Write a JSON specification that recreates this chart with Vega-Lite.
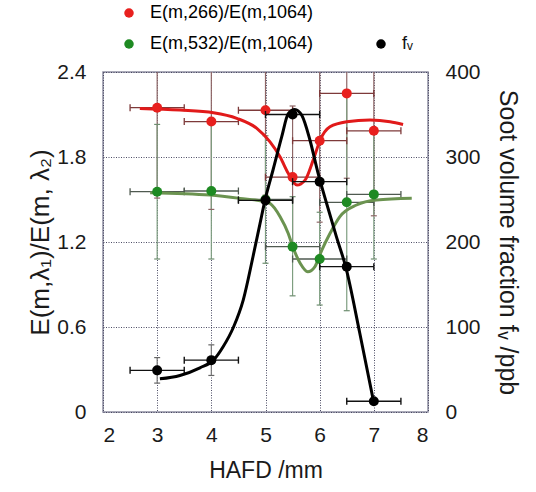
{
  "$schema": "https://vega.github.io/schema/vega-lite/v6.json",
  "width": 325,
  "height": 340,
  "autosize": "none",
  "padding": {"left": 103, "top": 72, "right": 108, "bottom": 80},
  "background": "white",
  "datasets": {
    "ratio": [
      {"series": "E(m,266)/E(m,1064)", "hafd": 3, "val": 2.148, "xlo": 2.5, "xhi": 3.5, "ylo": 1.51, "yhi": 2.79},
      {"series": "E(m,266)/E(m,1064)", "hafd": 4, "val": 2.05, "xlo": 3.5, "xhi": 4.5, "ylo": 1.43, "yhi": 2.67},
      {"series": "E(m,266)/E(m,1064)", "hafd": 5, "val": 2.13, "xlo": 4.5, "xhi": 5.5, "ylo": 1.53, "yhi": 2.73},
      {"series": "E(m,266)/E(m,1064)", "hafd": 5.5, "val": 1.658, "xlo": 5.0, "xhi": 6.0, "ylo": 1.16, "yhi": 2.16},
      {"series": "E(m,266)/E(m,1064)", "hafd": 6, "val": 1.915, "xlo": 5.5, "xhi": 6.5, "ylo": 1.34, "yhi": 2.49},
      {"series": "E(m,266)/E(m,1064)", "hafd": 6.5, "val": 2.249, "xlo": 6.0, "xhi": 7.0, "ylo": 1.65, "yhi": 2.85},
      {"series": "E(m,266)/E(m,1064)", "hafd": 7, "val": 1.985, "xlo": 6.5, "xhi": 7.5, "ylo": 1.385, "yhi": 2.585},
      {"series": "E(m,532)/E(m,1064)", "hafd": 3, "val": 1.555, "xlo": 2.5, "xhi": 3.5, "ylo": 1.08, "yhi": 2.03},
      {"series": "E(m,532)/E(m,1064)", "hafd": 4, "val": 1.56, "xlo": 3.5, "xhi": 4.5, "ylo": 1.08, "yhi": 2.04},
      {"series": "E(m,532)/E(m,1064)", "hafd": 5, "val": 1.5, "xlo": 4.5, "xhi": 5.5, "ylo": 1.05, "yhi": 1.95},
      {"series": "E(m,532)/E(m,1064)", "hafd": 5.5, "val": 1.167, "xlo": 5.0, "xhi": 6.0, "ylo": 0.82, "yhi": 1.52},
      {"series": "E(m,532)/E(m,1064)", "hafd": 6, "val": 1.08, "xlo": 5.5, "xhi": 6.5, "ylo": 0.755, "yhi": 1.41},
      {"series": "E(m,532)/E(m,1064)", "hafd": 6.5, "val": 1.48, "xlo": 6.0, "xhi": 7.0, "ylo": 0.715, "yhi": 2.245},
      {"series": "E(m,532)/E(m,1064)", "hafd": 7, "val": 1.536, "xlo": 6.5, "xhi": 7.5, "ylo": 1.08, "yhi": 1.99}
    ],
    "ratioCurve": [
      {"series": "E(m,266)/E(m,1064)", "hafd": 2.68, "val": 2.143},
      {"series": "E(m,266)/E(m,1064)", "hafd": 3.42, "val": 2.131},
      {"series": "E(m,266)/E(m,1064)", "hafd": 4.04, "val": 2.112},
      {"series": "E(m,266)/E(m,1064)", "hafd": 4.47, "val": 2.073},
      {"series": "E(m,266)/E(m,1064)", "hafd": 4.84, "val": 2.002},
      {"series": "E(m,266)/E(m,1064)", "hafd": 5.08, "val": 1.908},
      {"series": "E(m,266)/E(m,1064)", "hafd": 5.27, "val": 1.8},
      {"series": "E(m,266)/E(m,1064)", "hafd": 5.42, "val": 1.685},
      {"series": "E(m,266)/E(m,1064)", "hafd": 5.58, "val": 1.602},
      {"series": "E(m,266)/E(m,1064)", "hafd": 5.73, "val": 1.637},
      {"series": "E(m,266)/E(m,1064)", "hafd": 5.88, "val": 1.778},
      {"series": "E(m,266)/E(m,1064)", "hafd": 6.01, "val": 1.92},
      {"series": "E(m,266)/E(m,1064)", "hafd": 6.19, "val": 2.013},
      {"series": "E(m,266)/E(m,1064)", "hafd": 6.5, "val": 2.049},
      {"series": "E(m,266)/E(m,1064)", "hafd": 6.93, "val": 2.061},
      {"series": "E(m,266)/E(m,1064)", "hafd": 7.3, "val": 2.049},
      {"series": "E(m,266)/E(m,1064)", "hafd": 7.54, "val": 2.03},
      {"series": "E(m,532)/E(m,1064)", "hafd": 2.87, "val": 1.548},
      {"series": "E(m,532)/E(m,1064)", "hafd": 3.98, "val": 1.531},
      {"series": "E(m,532)/E(m,1064)", "hafd": 4.53, "val": 1.508},
      {"series": "E(m,532)/E(m,1064)", "hafd": 4.99, "val": 1.484},
      {"series": "E(m,532)/E(m,1064)", "hafd": 5.08, "val": 1.473},
      {"series": "E(m,532)/E(m,1064)", "hafd": 5.27, "val": 1.378},
      {"series": "E(m,532)/E(m,1064)", "hafd": 5.42, "val": 1.26},
      {"series": "E(m,532)/E(m,1064)", "hafd": 5.5, "val": 1.17},
      {"series": "E(m,532)/E(m,1064)", "hafd": 5.64, "val": 1.05},
      {"series": "E(m,532)/E(m,1064)", "hafd": 5.78, "val": 0.99},
      {"series": "E(m,532)/E(m,1064)", "hafd": 5.91, "val": 1.025},
      {"series": "E(m,532)/E(m,1064)", "hafd": 6.04, "val": 1.143},
      {"series": "E(m,532)/E(m,1064)", "hafd": 6.19, "val": 1.26},
      {"series": "E(m,532)/E(m,1064)", "hafd": 6.37, "val": 1.378},
      {"series": "E(m,532)/E(m,1064)", "hafd": 6.68, "val": 1.461},
      {"series": "E(m,532)/E(m,1064)", "hafd": 7.05, "val": 1.496},
      {"series": "E(m,532)/E(m,1064)", "hafd": 7.7, "val": 1.508}
    ],
    "fv": [
      {"series": "fᵥ", "hafd": 3, "val": 49, "xlo": 2.5, "xhi": 3.5, "ylo": 34, "yhi": 64},
      {"series": "fᵥ", "hafd": 4, "val": 61, "xlo": 3.5, "xhi": 4.5, "ylo": 43, "yhi": 79},
      {"series": "fᵥ", "hafd": 5, "val": 249, "xlo": 4.5, "xhi": 5.5, "ylo": null, "yhi": null},
      {"series": "fᵥ", "hafd": 5.5, "val": 350, "xlo": 5.0, "xhi": 6.0, "ylo": null, "yhi": null},
      {"series": "fᵥ", "hafd": 6, "val": 271, "xlo": 5.5, "xhi": 6.5, "ylo": null, "yhi": null},
      {"series": "fᵥ", "hafd": 6.5, "val": 171, "xlo": 6.0, "xhi": 7.0, "ylo": null, "yhi": null},
      {"series": "fᵥ", "hafd": 7, "val": 12.6, "xlo": 6.5, "xhi": 7.5, "ylo": null, "yhi": null}
    ],
    "fvCurve": [
      {"hafd": 3.05, "val": 39},
      {"hafd": 3.42, "val": 43},
      {"hafd": 3.79, "val": 52},
      {"hafd": 4.04, "val": 61},
      {"hafd": 4.22, "val": 77},
      {"hafd": 4.41, "val": 100},
      {"hafd": 4.59, "val": 132},
      {"hafd": 4.77, "val": 183},
      {"hafd": 4.9, "val": 222},
      {"hafd": 4.99, "val": 249},
      {"hafd": 5.14, "val": 285},
      {"hafd": 5.3, "val": 324},
      {"hafd": 5.42, "val": 351},
      {"hafd": 5.54, "val": 356},
      {"hafd": 5.67, "val": 349},
      {"hafd": 5.82, "val": 320},
      {"hafd": 5.97, "val": 281},
      {"hafd": 6.13, "val": 245},
      {"hafd": 6.31, "val": 206},
      {"hafd": 6.48, "val": 171},
      {"hafd": 6.74, "val": 93},
      {"hafd": 6.99, "val": 14}
    ]
  },
  "layer": [
    {
      "resolve": {"scale": {"stroke": "independent"}},
      "layer": [
        {
          "data": {"name": "ratio"},
          "mark": {"type": "rule", "strokeWidth": 1.2, "clip": true},
          "encoding": {
            "x": {"field": "hafd", "type": "quantitative", "scale": {"domain": [2, 8]}, "title": "HAFD /mm",
              "axis": {"values": [2, 3, 4, 5, 6, 7, 8], "format": "d", "grid": true, "labelPadding": 12, "titlePadding": 14, "titleFontSize": 23}},
            "y": {"field": "ylo", "type": "quantitative", "scale": {"domain": [0, 2.4]}, "title": "E(m,λ₁)/E(m, λ₂)",
              "axis": {"values": [0, 0.6, 1.2, 1.8, 2.4], "format": "~g", "grid": true, "labelPadding": 17, "titlePadding": 3, "titleFontSize": 26}},
            "y2": {"field": "yhi"},
            "stroke": {"field": "series", "type": "nominal", "scale": {"domain": ["E(m,266)/E(m,1064)", "E(m,532)/E(m,1064)"], "range": ["#8e6666", "#7e9e80"]}, "legend": null}
          }
        },
        {
          "data": {"name": "ratio"},
          "transform": [{"fold": ["ylo", "yhi"], "as": ["k", "v"]}],
          "mark": {"type": "rule", "strokeWidth": 1.2, "clip": true, "xOffset": -3, "x2Offset": 3},
          "encoding": {
            "x": {"field": "hafd", "type": "quantitative", "title": "HAFD /mm"},
            "x2": {"field": "hafd"},
            "y": {"field": "v", "type": "quantitative", "title": "E(m,λ₁)/E(m, λ₂)"},
            "stroke": {"field": "series", "type": "nominal", "scale": {"domain": ["E(m,266)/E(m,1064)", "E(m,532)/E(m,1064)"], "range": ["#8e6666", "#6e8e70"]}, "legend": null}
          }
        },
        {
          "data": {"name": "ratio"},
          "mark": {"type": "rule", "strokeWidth": 1.3, "clip": true},
          "encoding": {
            "x": {"field": "xlo", "type": "quantitative", "title": "HAFD /mm"},
            "x2": {"field": "xhi"},
            "y": {"field": "val", "type": "quantitative", "title": "E(m,λ₁)/E(m, λ₂)"},
            "stroke": {"field": "series", "type": "nominal", "scale": {"domain": ["E(m,266)/E(m,1064)", "E(m,532)/E(m,1064)"], "range": ["#7e3a3a", "#4f5a50"]}, "legend": null}
          }
        },
        {
          "data": {"name": "ratio"},
          "transform": [{"fold": ["xlo", "xhi"], "as": ["k", "v"]}],
          "mark": {"type": "rule", "strokeWidth": 1.3, "clip": true, "yOffset": -3.5, "y2Offset": 3.5},
          "encoding": {
            "x": {"field": "v", "type": "quantitative", "title": "HAFD /mm"},
            "y": {"field": "val", "type": "quantitative", "title": "E(m,λ₁)/E(m, λ₂)"},
            "y2": {"field": "val"},
            "stroke": {"field": "series", "type": "nominal", "scale": {"domain": ["E(m,266)/E(m,1064)", "E(m,532)/E(m,1064)"], "range": ["#7e3a3a", "#4f5a50"]}, "legend": null}
          }
        },
        {
          "data": {"name": "ratioCurve"},
          "mark": {"type": "line", "strokeWidth": 3, "interpolate": "monotone"},
          "encoding": {
            "x": {"field": "hafd", "type": "quantitative", "title": "HAFD /mm"},
            "y": {"field": "val", "type": "quantitative", "title": "E(m,λ₁)/E(m, λ₂)"},
            "stroke": {"field": "series", "type": "nominal", "scale": {"domain": ["E(m,266)/E(m,1064)", "E(m,532)/E(m,1064)"], "range": ["#e11a1a", "#6b9350"]}, "legend": null}
          }
        },
        {
          "data": {"name": "ratio"},
          "mark": {"type": "point", "filled": true, "size": 100, "opacity": 1},
          "encoding": {
            "x": {"field": "hafd", "type": "quantitative", "title": "HAFD /mm"},
            "y": {"field": "val", "type": "quantitative", "title": "E(m,λ₁)/E(m, λ₂)"},
            "color": {"field": "series", "type": "nominal",
              "scale": {"domain": ["E(m,266)/E(m,1064)", "E(m,532)/E(m,1064)"], "range": ["#e8201e", "#1e8a22"]},
              "legend": {"orient": "none", "legendX": 17, "legendY": -68, "title": null, "direction": "vertical",
                "labelFontSize": 18, "labelFont": "Liberation Sans", "symbolType": "circle", "symbolSize": 90,
                "rowPadding": 13, "labelOffset": 12, "labelLimit": 400,
                "encode": {"labels": {"update": {"fill": {"signal": "datum.value === 'E(m,266)/E(m,1064)' ? '#d42a2a' : '#2a7a2c'"}}}}}}
          }
        }
      ]
    },
    {
      "layer": [
        {
          "data": {"name": "fv"},
          "transform": [{"filter": "isValid(datum.ylo)"}],
          "mark": {"type": "rule", "strokeWidth": 1.2, "color": "#777777"},
          "encoding": {
            "x": {"field": "hafd", "type": "quantitative", "title": "HAFD /mm"},
            "y": {"field": "ylo", "type": "quantitative", "scale": {"domain": [0, 400]}, "title": "Soot volume fraction fᵥ /ppb",
              "axis": {"orient": "right", "values": [0, 100, 200, 300, 400], "grid": false, "labelPadding": 17, "titlePadding": 14, "titleFontSize": 25}},
            "y2": {"field": "yhi"}
          }
        },
        {
          "data": {"name": "fv"},
          "transform": [{"filter": "isValid(datum.ylo)"}, {"fold": ["ylo", "yhi"], "as": ["k", "v"]}],
          "mark": {"type": "rule", "strokeWidth": 1.2, "color": "#666666", "xOffset": -3, "x2Offset": 3},
          "encoding": {
            "x": {"field": "hafd", "type": "quantitative", "title": "HAFD /mm"},
            "x2": {"field": "hafd"},
            "y": {"field": "v", "type": "quantitative", "title": "Soot volume fraction fᵥ /ppb"}
          }
        },
        {
          "data": {"name": "fv"},
          "mark": {"type": "rule", "strokeWidth": 1.4, "color": "#111111"},
          "encoding": {
            "x": {"field": "xlo", "type": "quantitative", "title": "HAFD /mm"},
            "x2": {"field": "xhi"},
            "y": {"field": "val", "type": "quantitative", "title": "Soot volume fraction fᵥ /ppb"}
          }
        },
        {
          "data": {"name": "fv"},
          "transform": [{"fold": ["xlo", "xhi"], "as": ["k", "v"]}],
          "mark": {"type": "rule", "strokeWidth": 1.4, "color": "#111111", "yOffset": -3.5, "y2Offset": 3.5},
          "encoding": {
            "x": {"field": "v", "type": "quantitative", "title": "HAFD /mm"},
            "y": {"field": "val", "type": "quantitative", "title": "Soot volume fraction fᵥ /ppb"},
            "y2": {"field": "val"}
          }
        },
        {
          "data": {"name": "fvCurve"},
          "mark": {"type": "line", "strokeWidth": 3, "color": "#000000", "interpolate": "monotone"},
          "encoding": {
            "x": {"field": "hafd", "type": "quantitative", "title": "HAFD /mm"},
            "y": {"field": "val", "type": "quantitative", "title": "Soot volume fraction fᵥ /ppb"}
          }
        },
        {
          "data": {"name": "fv"},
          "mark": {"type": "point", "filled": true, "size": 100, "opacity": 1},
          "encoding": {
            "x": {"field": "hafd", "type": "quantitative", "title": "HAFD /mm"},
            "y": {"field": "val", "type": "quantitative", "title": "Soot volume fraction fᵥ /ppb"},
            "color": {"field": "series", "type": "nominal", "scale": {"domain": ["fᵥ"], "range": ["#000000"]},
              "legend": {"orient": "none", "legendX": 269, "legendY": -37, "title": null,
                "labelFontSize": 18, "labelFont": "Liberation Sans", "labelColor": "#111111", "symbolType": "circle", "symbolSize": 90, "labelOffset": 12}}
          }
        }
      ]
    }
  ],
  "resolve": {"scale": {"y": "independent", "color": "independent"}},
  "config": {
    "view": {"stroke": "#8f8fa3", "strokeWidth": 1.5},
    "axis": {"labelFont": "Liberation Sans", "titleFont": "Liberation Sans", "labelFontSize": 21, "titleFontSize": 22,
      "titleFontWeight": "normal", "labelColor": "#1a1a1a", "titleColor": "#1a1a1a", "ticks": false, "domain": false,
      "gridColor": "#3a3a55", "gridDash": [1, 1.5], "gridWidth": 1, "gridOpacity": 0.9}
  }
}
